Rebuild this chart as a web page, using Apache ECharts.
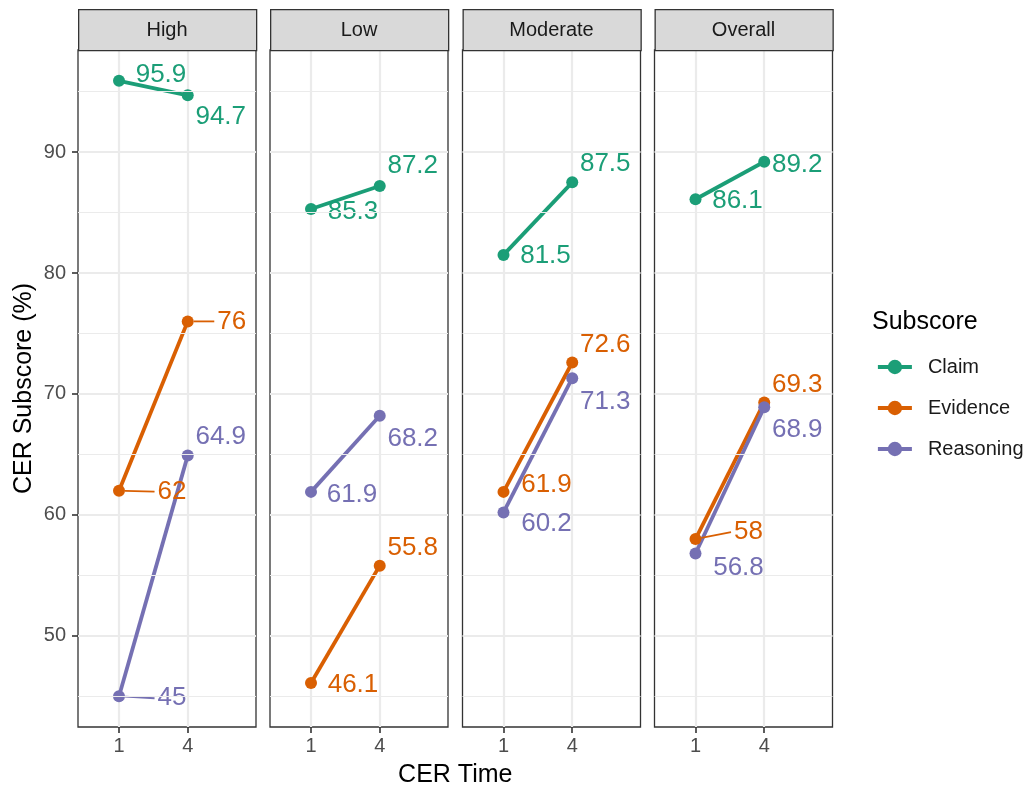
<!DOCTYPE html>
<html>
<head>
<meta charset="utf-8">
<script src="https://cdn.jsdelivr.net/npm/echarts@6/dist/echarts.min.js"></script>
<style>
html,body{margin:0;padding:0;background:#fff;}
#chart{width:1030px;height:791px;}
</style>
</head>
<body>
<div id="chart"></div>
<script>
// ---------- data ----------
const facets = ['High', 'Low', 'Moderate', 'Overall'];
const times = [1, 4];
const subscores = ['Claim', 'Evidence', 'Reasoning'];
const claimValues     = [[95.9, 94.7], [85.3, 87.2], [81.5, 87.5], [86.1, 89.2]];
const evidenceValues  = [[62, 76],     [46.1, 55.8], [61.9, 72.6], [58, 69.3]];
const reasoningValues = [[45, 64.9],   [61.9, 68.2], [60.2, 71.3], [56.8, 68.9]];
const yTicks = [50, 60, 70, 80, 90];
const yMinorTicks = [45, 55, 65, 75, 85, 95];
const xTicks = [1, 4];

// ---------- style / layout config ----------
const FONT = '"Liberation Sans", Arial, Helvetica, sans-serif';
const colors = { Claim: '#1B9E77', Evidence: '#D95F02', Reasoning: '#7570B3' };
const valuesBySub = { Claim: claimValues, Evidence: evidenceValues, Reasoning: reasoningValues };
// label offsets in pixels (repel-like placement), per subscore -> facet -> time
const labelOffsets = {
  Claim:     [[[42, -6], [33, 22]], [[42, 3], [33, -20]], [[42, 1], [33, -19]], [[42, 2], [33, 3]]],
  Evidence:  [[[53, 1], [44, 0]],   [[42, 2], [33, -18]], [[43, -7], [33, -18]], [[53, -7], [33, -18]]],
  Reasoning: [[[53, 2], [33, -19]], [[41, 3], [33, 23]],  [[43, 11], [33, 24]], [[43, 14], [33, 23]]]
};
// which labels get a leader segment: subscore -> facet -> time index
const leaders = { Evidence: { 0: [0, 1], 3: [0] }, Reasoning: { 0: [0] } };

const panelLefts = [78, 270, 462.5, 654.5];
const panelW = 178, panelTop = 50, panelH = 677;
const stripTop = 9, stripH = 41;
const xMin = -0.79, xMax = 6.98;
const yMin = 42.455, yMax = 98.445;
const LABEL_SIZE = 26;

const chart = echarts.init(document.getElementById('chart'), null, { renderer: 'canvas' });

const grids = [], xAxes = [], yAxes = [], series = [], graphics = [];

facets.forEach((f, i) => {
  grids.push({
    left: panelLefts[i], top: panelTop, width: panelW, height: panelH,
    show: true, borderColor: '#333333', borderWidth: 1.3, backgroundColor: 'transparent', containLabel: false
  });
  xAxes.push({
    type: 'value', gridIndex: i, min: xMin, max: xMax, position: 'bottom',
    axisLine: { show: false, onZero: false },
    axisTick: { show: true, length: 6, lineStyle: { color: '#333333', width: 1.6 }, customValues: xTicks },
    axisLabel: { show: true, margin: 9, fontSize: 20, color: '#4D4D4D', fontFamily: FONT, customValues: xTicks },
    splitLine: { show: true, lineStyle: { color: '#EBEBEB', width: 2.2 } }
  });
  yAxes.push({
    type: 'value', gridIndex: i, min: yMin, max: yMax, position: 'left',
    axisLine: { show: false, onZero: false },
    axisTick: { show: i === 0, length: 6, lineStyle: { color: '#333333', width: 1.6 }, customValues: yTicks },
    axisLabel: { show: i === 0, margin: 12, fontSize: 20, color: '#4D4D4D', fontFamily: FONT, customValues: yTicks },
    splitLine: { show: true, lineStyle: { color: '#EBEBEB', width: 2.2 } }
  });
  // minor horizontal grid lines
  series.push({
    type: 'line', name: '_minor', xAxisIndex: i, yAxisIndex: i, data: [], z: 1, silent: true,
    markLine: {
      silent: true, symbol: 'none', animation: false, label: { show: false },
      lineStyle: { color: '#EBEBEB', width: 1.2, type: 'solid' },
      data: yMinorTicks.map(v => ({ yAxis: v }))
    }
  });
  subscores.forEach(s => {
    const vals = valuesBySub[s][i];
    const pts = times.map((t, k) => [t, vals[k]]);
    series.push({
      type: 'line', name: s, xAxisIndex: i, yAxisIndex: i, data: pts,
      symbol: 'circle', symbolSize: 12, showSymbol: true,
      lineStyle: { color: colors[s], width: 3.8 },
      itemStyle: { color: colors[s] },
      label: { show: false }, z: 2, animation: false
    });
    series.push({
      type: 'custom', name: '_lbl_' + s, xAxisIndex: i, yAxisIndex: i, data: pts, z: 4,
      silent: true, animation: false,
      renderItem: (params, api) => {
        const k = params.dataIndex;
        const v = api.value(1);
        const p = api.coord([api.value(0), v]);
        const off = labelOffsets[s][i][k];
        const txt = String(v);
        const children = [{
          type: 'text', x: p[0] + off[0], y: p[1] + off[1],
          style: { text: txt, fill: colors[s], font: LABEL_SIZE + 'px ' + FONT, align: 'center', verticalAlign: 'middle' }
        }];
        const lf = leaders[s] && leaders[s][i];
        if (lf && lf.indexOf(k) >= 0) {
          const halfW = txt.length * 0.556 * LABEL_SIZE / 2;
          const ex = p[0] + off[0] - halfW - 3, ey = p[1] + off[1];
          const dx = ex - p[0], dy = ey - p[1];
          const d = Math.sqrt(dx * dx + dy * dy);
          const sx = p[0] + dx / d * 6, sy = p[1] + dy / d * 6;
          children.push({
            type: 'line', shape: { x1: sx, y1: sy, x2: ex, y2: ey },
            style: { stroke: colors[s], lineWidth: 1.8 }
          });
        }
        return { type: 'group', children };
      }
    });
  });
  // strip
  graphics.push({
    type: 'rect', left: panelLefts[i], top: stripTop, z: 10,
    shape: { width: panelW, height: stripH },
    style: { fill: '#D9D9D9', stroke: '#333333', lineWidth: 1.3 }
  });
  graphics.push({
    type: 'text', x: panelLefts[i] + panelW / 2, y: stripTop + stripH / 2 + 1, z: 11,
    style: { text: f, fill: '#1A1A1A', font: '20px ' + FONT, align: 'center', verticalAlign: 'middle' }
  });
});

// axis titles & legend title
graphics.push({
  type: 'text', x: (panelLefts[0] + panelLefts[3] + panelW) / 2, y: 775, z: 11,
  style: { text: 'CER Time', fill: '#000000', font: '25px ' + FONT, align: 'center', verticalAlign: 'middle' }
});
graphics.push({
  type: 'text', x: 24, y: panelTop + panelH / 2, rotation: Math.PI / 2, z: 11,
  style: { text: 'CER Subscore (%)', fill: '#000000', font: '25px ' + FONT, align: 'center', verticalAlign: 'middle' }
});
graphics.push({
  type: 'text', x: 872, y: 322, z: 11,
  style: { text: 'Subscore', fill: '#000000', font: '25px ' + FONT, align: 'left', verticalAlign: 'middle' }
});

chart.setOption({
  animation: false,
  backgroundColor: '#ffffff',
  grid: grids,
  xAxis: xAxes,
  yAxis: yAxes,
  series: series,
  graphic: graphics,
  legend: {
    data: subscores,
    orient: 'vertical', left: 876, top: 357, padding: 0,
    itemWidth: 34, itemHeight: 18, itemGap: 21,
    lineStyle: { width: 3.8 },
    textStyle: { fontSize: 20, color: '#1A1A1A', fontFamily: FONT, lineHeight: 20, padding: [0, 0, 0, 11] },
    selectedMode: false
  }
});
</script>
</body>
</html>
